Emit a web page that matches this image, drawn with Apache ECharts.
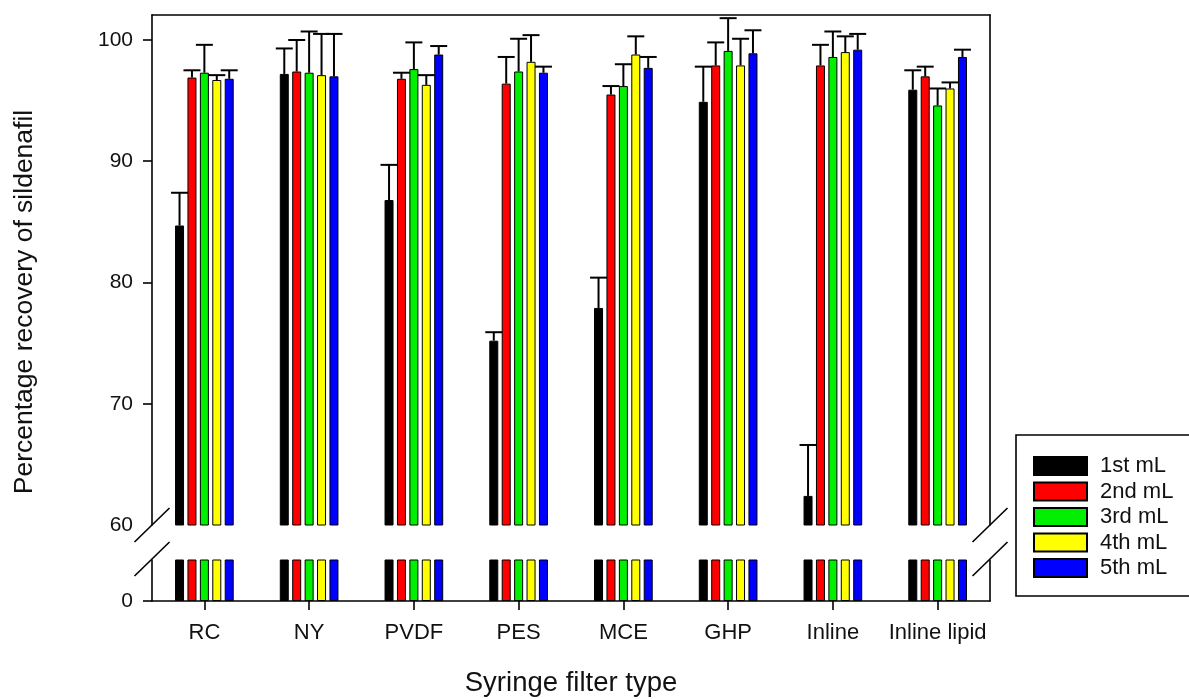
<!DOCTYPE html>
<html>
<head>
<meta charset="utf-8">
<script src="https://cdn.jsdelivr.net/npm/echarts@6/dist/echarts.min.js"></script>
<style>
html,body{margin:0;padding:0;background:#fff;}
#chart{width:1189px;height:699px;}
</style>
</head>
<body>
<div id="chart"></div>
<script>
const categories = ['RC', 'NY', 'PVDF', 'PES', 'MCE', 'GHP', 'Inline', 'Inline lipid'];
const seriesNames = ['1st mL', '2nd mL', '3rd mL', '4th mL', '5th mL'];
const colors = ['#000000', '#ff0000', '#00f000', '#ffff00', '#0000ff'];

const mL1 = [84.7, 97.2, 86.8, 75.2, 77.9, 94.9, 62.4, 95.9];
const mL1Err = [2.7, 2.1, 2.9, 0.7, 2.5, 2.9, 4.2, 1.6];
const mL2 = [96.9, 97.4, 96.8, 96.4, 95.5, 97.9, 97.9, 97.0];
const mL2Err = [0.6, 2.6, 0.5, 2.2, 0.7, 1.9, 1.7, 0.8];
const mL3 = [97.3, 97.3, 97.6, 97.4, 96.2, 99.1, 98.6, 94.6];
const mL3Err = [2.3, 3.4, 2.2, 2.7, 1.8, 2.7, 2.1, 1.4];
const mL4 = [96.7, 97.1, 96.3, 98.2, 98.8, 97.9, 99.0, 96.0];
const mL4Err = [0.4, 3.4, 0.8, 2.2, 1.5, 2.2, 1.3, 0.5];
const mL5 = [96.8, 97.0, 98.8, 97.3, 97.7, 98.9, 99.2, 98.6];
const mL5Err = [0.7, 3.5, 0.7, 0.5, 0.9, 1.9, 1.3, 0.6];

const upperLabels = [60, 70, 80, 90, 100];
const upperTicks = [70, 80, 90, 100];
const lowerLabels = [0];

const values = [mL1, mL2, mL3, mL4, mL5];
const errors = [mL1Err, mL2Err, mL3Err, mL4Err, mL5Err];

// layout constants
const GL = 152, GW = 838;
const UT = 15, UH = 510;
const LT = 560, LH = 41;
const BAR_W = 9, BAR_GAP = 0.38;
const PITCH = BAR_W * (1 + BAR_GAP);
const CAP = 17;
const FONT = "'Liberation Sans', Arial, sans-serif";

const chart = echarts.init(document.getElementById('chart'));

const series = [];
values.forEach((vals, k) => {
  series.push({
    name: seriesNames[k], type: 'bar', xAxisIndex: 0, yAxisIndex: 0,
    data: vals, barWidth: BAR_W, barGap: (BAR_GAP * 100) + '%', clip: true,
    itemStyle: { color: colors[k], borderColor: '#000', borderWidth: 1 },
    emphasis: { disabled: true }, animation: false
  });
});
values.forEach((vals, k) => {
  series.push({
    name: seriesNames[k], type: 'bar', xAxisIndex: 1, yAxisIndex: 2,
    data: vals, barWidth: BAR_W, barGap: (BAR_GAP * 100) + '%', clip: true,
    itemStyle: { color: colors[k], borderColor: '#000', borderWidth: 1 },
    emphasis: { disabled: true }, animation: false
  });
});
values.forEach((vals, k) => {
  series.push({
    name: 'err' + k, type: 'custom', xAxisIndex: 0, yAxisIndex: 0, z: 5,
    data: vals.map((v, i) => [i, v, errors[k][i]]),
    renderItem: function (params, api) {
      const x = api.value(0), v = api.value(1), e = api.value(2);
      const p0 = api.coord([x, v]);
      const p1 = api.coord([x, v + e]);
      const cx = p0[0] + (k - 2) * PITCH;
      const st = { stroke: '#000', lineWidth: 2 };
      return {
        type: 'group', children: [
          { type: 'line', shape: { x1: cx, y1: p0[1], x2: cx, y2: p1[1] }, style: st },
          { type: 'line', shape: { x1: cx - CAP / 2, y1: p1[1], x2: cx + CAP / 2, y2: p1[1] }, style: st }
        ]
      };
    },
    animation: false, silent: true
  });
});

const lineStyle = { color: '#000', width: 1.6 };
const slashes = [];
[GL, GL + GW].forEach(ax => {
  slashes.push({ type: 'line', shape: { x1: ax - 17.5, y1: 542, x2: ax + 17.5, y2: 508 }, style: { stroke: '#000', lineWidth: 1.6 }, z: 100 });
  slashes.push({ type: 'line', shape: { x1: ax - 17.5, y1: 576, x2: ax + 17.5, y2: 542 }, style: { stroke: '#000', lineWidth: 1.6 }, z: 100 });
});

chart.setOption({
  animation: false,
  backgroundColor: '#ffffff',
  textStyle: { fontFamily: FONT },
  grid: [
    { left: GL, top: UT, width: GW, height: UH, containLabel: false },
    { left: GL, top: LT, width: GW, height: LH, containLabel: false }
  ],
  xAxis: [
    {
      type: 'category', gridIndex: 0, data: categories, position: 'top',
      axisLine: { show: true, lineStyle: lineStyle, onZero: false },
      axisTick: { show: false }, axisLabel: { show: false }, splitLine: { show: false }
    },
    {
      type: 'category', gridIndex: 1, data: categories, position: 'bottom',
      axisLine: { show: true, lineStyle: lineStyle, onZero: false },
      axisTick: { show: true, alignWithLabel: true, interval: 0, length: 9, lineStyle: lineStyle },
      axisLabel: { show: true, interval: 0, fontSize: 22, color: '#111', margin: 21, fontFamily: FONT },
      splitLine: { show: false },
      name: 'Syringe filter type', nameLocation: 'middle', nameGap: 68,
      nameTextStyle: { fontSize: 27.5, color: '#111', fontFamily: FONT }
    }
  ],
  yAxis: [
    {
      type: 'value', gridIndex: 0, min: 60, max: 102.06, interval: 10, position: 'left',
      axisLine: { show: true, lineStyle: lineStyle },
      axisTick: { show: true, length: 9, lineStyle: lineStyle, customValues: upperTicks },
      axisLabel: { show: true, fontSize: 21, color: '#111', margin: 19, customValues: upperLabels, fontFamily: FONT },
      splitLine: { show: false }
    },
    {
      type: 'value', gridIndex: 0, min: 60, max: 102.06, position: 'right',
      axisLine: { show: true, lineStyle: lineStyle },
      axisTick: { show: false }, axisLabel: { show: false }, splitLine: { show: false }
    },
    {
      type: 'value', gridIndex: 1, min: 0, max: 3.4, position: 'left',
      axisLine: { show: true, lineStyle: lineStyle },
      axisTick: { show: true, length: 9, lineStyle: lineStyle, customValues: lowerLabels },
      axisLabel: { show: true, fontSize: 21, color: '#111', margin: 19, customValues: lowerLabels, fontFamily: FONT },
      splitLine: { show: false }
    },
    {
      type: 'value', gridIndex: 1, min: 0, max: 3.4, position: 'right',
      axisLine: { show: true, lineStyle: lineStyle },
      axisTick: { show: false }, axisLabel: { show: false }, splitLine: { show: false }
    }
  ],
  legend: {
    data: seriesNames, orient: 'vertical', left: 1016, top: 435,
    padding: [20, 20, 17, 17], borderColor: '#000', borderWidth: 1.6,
    itemWidth: 53, itemHeight: 18, itemGap: 3.5, icon: 'rect',
    selectedMode: false,
    textStyle: { fontSize: 22, color: '#111', fontFamily: FONT, lineHeight: 18, padding: [0, 0, 0, 8] }
  },
  graphic: [
    {
      type: 'text', x: 25, y: 302, rotation: Math.PI / 2,
      style: { text: 'Percentage recovery of sildenafil', fontSize: 26.5, fill: '#111', fontFamily: FONT, align: 'center', verticalAlign: 'middle' }
    }
  ].concat(slashes),
  series: series
});
</script>
</body>
</html>
